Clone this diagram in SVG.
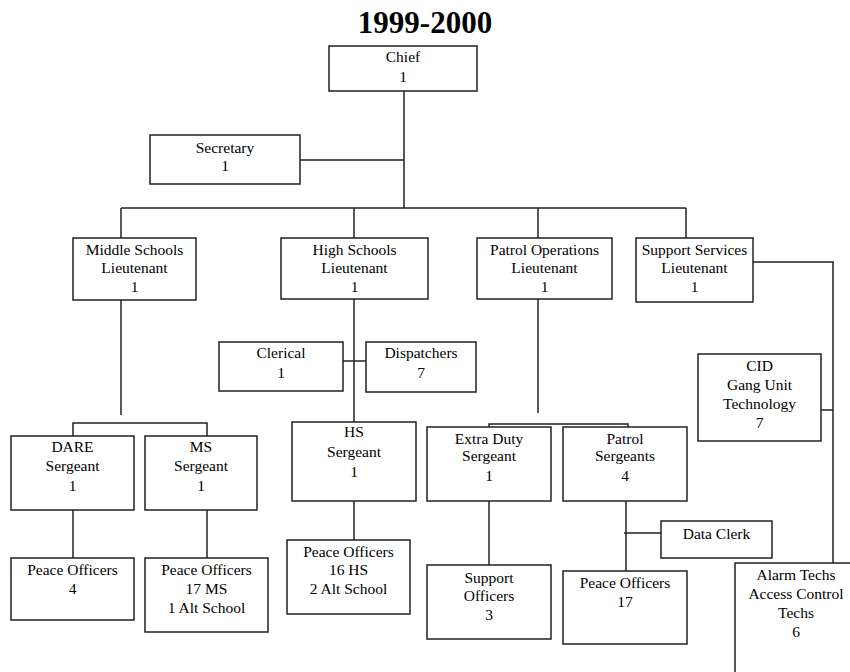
<svg xmlns="http://www.w3.org/2000/svg" width="850" height="672" viewBox="0 0 850 672">
<style>
rect{fill:#fff;stroke:#222;stroke-width:1.5}
.c line,.c polyline{stroke:#222;stroke-width:1.5;fill:none}
text{font-family:"Liberation Serif","Times New Roman",serif;font-size:15.5px;fill:#000;text-anchor:middle}
.t{font-size:31px;font-weight:bold}
</style>
<rect x="0" y="0" width="850" height="672" style="stroke:none"/>
<text class="t" x="425" y="33" font-family="Liberation Serif, serif">1999-2000</text>
<g class="c" id="connectors">
<line x1="404" y1="91" x2="404" y2="208"/>
<line x1="300" y1="160" x2="404" y2="160"/>
<line x1="121" y1="208" x2="686" y2="208"/>
<line x1="121" y1="208" x2="121" y2="238"/>
<line x1="354" y1="208" x2="354" y2="238"/>
<line x1="538" y1="208" x2="538" y2="238"/>
<line x1="686" y1="208" x2="686" y2="238"/>
<polyline points="753,262 833,262 833,563"/>
<line x1="821" y1="410" x2="833" y2="410"/>
<line x1="121" y1="300" x2="121" y2="415"/>
<polyline points="73,436 73,423 207,423 207,436"/>
<line x1="73" y1="510" x2="73" y2="558"/>
<line x1="207" y1="510" x2="207" y2="558"/>
<line x1="354" y1="299" x2="354" y2="422"/>
<line x1="343" y1="361" x2="366" y2="361"/>
<line x1="354" y1="501" x2="354" y2="540"/>
<line x1="538" y1="299" x2="538" y2="413"/>
<polyline points="489,427 489,424 628,424 628,427"/>
<line x1="489" y1="501" x2="489" y2="565"/>
<line x1="626" y1="501" x2="626" y2="571"/>
<line x1="624" y1="533" x2="661" y2="533"/>
</g>
<g font-family="Liberation Serif, serif">
<g id="chief"><rect x="329" y="46" width="148" height="45"/><text x="403" y="62">Chief</text><text x="403" y="82">1</text></g>
<g id="secretary"><rect x="150" y="135" width="150" height="49"/><text x="225" y="153">Secretary</text><text x="225" y="171">1</text></g>
<g id="ms-lt"><rect x="73" y="238" width="123" height="62"/><text x="134.5" y="255">Middle Schools</text><text x="134.5" y="273">Lieutenant</text><text x="134.5" y="292">1</text></g>
<g id="hs-lt"><rect x="281" y="238" width="147" height="61"/><text x="354.5" y="255">High Schools</text><text x="354.5" y="273">Lieutenant</text><text x="354.5" y="292">1</text></g>
<g id="patrol-lt"><rect x="477" y="238" width="135" height="61"/><text x="544.5" y="255">Patrol Operations</text><text x="544.5" y="273">Lieutenant</text><text x="544.5" y="292">1</text></g>
<g id="support-lt"><rect x="636" y="238" width="117" height="64"/><text x="694.5" y="255">Support Services</text><text x="694.5" y="273">Lieutenant</text><text x="694.5" y="292">1</text></g>
<g id="clerical"><rect x="219" y="342" width="124" height="49"/><text x="281" y="358">Clerical</text><text x="281" y="378">1</text></g>
<g id="dispatchers"><rect x="366" y="342" width="110" height="50"/><text x="421" y="358">Dispatchers</text><text x="421" y="378">7</text></g>
<g id="cid"><rect x="698" y="354" width="123" height="87"/><text x="759.5" y="371">CID</text><text x="759.5" y="390">Gang Unit</text><text x="759.5" y="409">Technology</text><text x="759.5" y="428">7</text></g>
<g id="dare"><rect x="11" y="436" width="123" height="74"/><text x="72.5" y="452">DARE</text><text x="72.5" y="471">Sergeant</text><text x="72.5" y="491">1</text></g>
<g id="ms-sgt"><rect x="145" y="436" width="112" height="74"/><text x="201" y="452">MS</text><text x="201" y="471">Sergeant</text><text x="201" y="491">1</text></g>
<g id="hs-sgt"><rect x="292" y="422" width="124" height="79"/><text x="354" y="437">HS</text><text x="354" y="457">Sergeant</text><text x="354" y="477">1</text></g>
<g id="extra-sgt"><rect x="427" y="427" width="124" height="74"/><text x="489" y="444">Extra Duty</text><text x="489" y="461">Sergeant</text><text x="489" y="481">1</text></g>
<g id="patrol-sgt"><rect x="563" y="427" width="124" height="74"/><text x="625" y="444">Patrol</text><text x="625" y="461">Sergeants</text><text x="625" y="481">4</text></g>
<g id="data-clerk"><rect x="661" y="521" width="111" height="37"/><text x="716.5" y="539">Data Clerk</text></g>
<g id="po-dare"><rect x="11" y="558" width="123" height="62"/><text x="72.5" y="575">Peace Officers</text><text x="72.5" y="594">4</text></g>
<g id="po-ms"><rect x="145" y="558" width="123" height="74"/><text x="206.5" y="575">Peace Officers</text><text x="206.5" y="594">17 MS</text><text x="206.5" y="613">1 Alt School</text></g>
<g id="po-hs"><rect x="287" y="540" width="123" height="74"/><text x="348.5" y="557">Peace Officers</text><text x="348.5" y="575">16 HS</text><text x="348.5" y="594">2 Alt School</text></g>
<g id="support-officers"><rect x="427" y="565" width="124" height="74"/><text x="489" y="583">Support</text><text x="489" y="601">Officers</text><text x="489" y="620">3</text></g>
<g id="po-patrol"><rect x="563" y="571" width="124" height="73"/><text x="625" y="588">Peace Officers</text><text x="625" y="607">17</text></g>
<g id="alarm"><rect x="735" y="563" width="122" height="120"/><text x="796" y="580">Alarm Techs</text><text x="796" y="599">Access Control</text><text x="796" y="618">Techs</text><text x="796" y="637">6</text></g>
</g>
</svg>
